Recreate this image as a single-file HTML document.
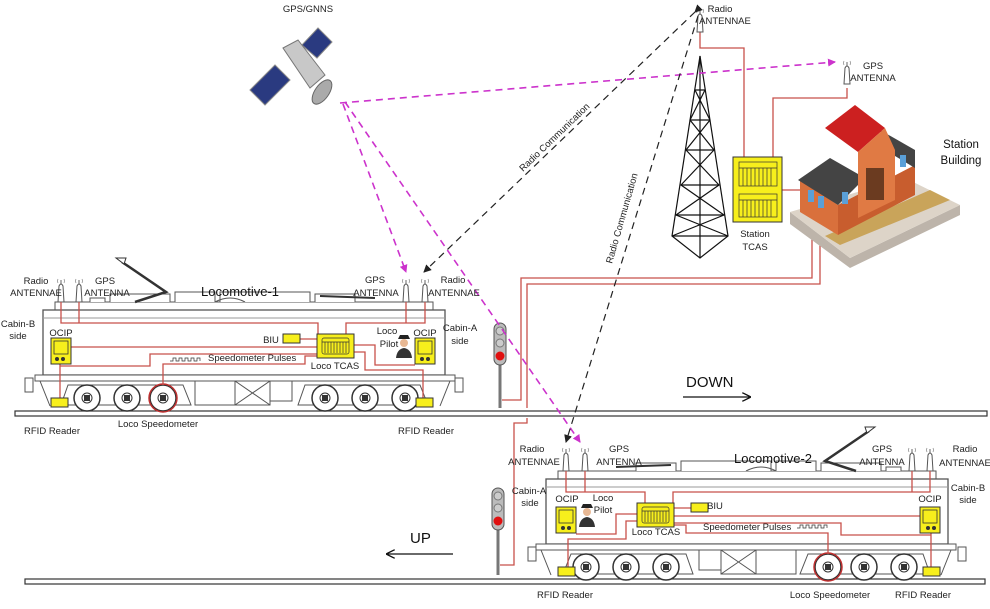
<!DOCTYPE html>
<html><head><meta charset="utf-8"><style>
html,body{margin:0;padding:0;background:#fff;}
svg{display:block;font-family:"Liberation Sans",sans-serif;}
</style></head><body>
<svg width="990" height="609" viewBox="0 0 990 609" xmlns="http://www.w3.org/2000/svg">
<defs>
<marker id="am" markerWidth="8" markerHeight="8" refX="7" refY="4" orient="auto" markerUnits="userSpaceOnUse"><path d="M0,0 L8,4 L0,8 z" fill="#cc33cc"/></marker>
<marker id="ab" markerWidth="8" markerHeight="8" refX="7" refY="4" orient="auto" markerUnits="userSpaceOnUse"><path d="M0,0 L8,4 L0,8 z" fill="#222"/></marker>
<marker id="ak" markerWidth="9" markerHeight="9" refX="8" refY="4.5" orient="auto" markerUnits="userSpaceOnUse"><path d="M0,0 L9,4.5 L0,9" fill="none" stroke="#111" stroke-width="1.3"/></marker>
<g id="ant"><path d="M-3,22 L-2,6 Q0,2 2,6 L3,22 z" fill="#fff" stroke="#555" stroke-width="1"/><line x1="0" y1="0" x2="0" y2="4" stroke="#666"/><path d="M-3,-1 Q-4,1 -3,3 M3,-1 Q4,1 3,3" stroke="#888" fill="none" stroke-width="0.7"/></g>
<g id="wheel"><circle r="13" fill="#fff" stroke="#333" stroke-width="1.5"/><circle r="5" fill="#fff" stroke="#333"/><rect x="-3" y="-3" width="6" height="6" fill="#333"/></g>
<g id="loco">
 <rect x="55" y="302" width="378" height="8" fill="#fff" stroke="#555"/>
 <path d="M110,302 v-8 h60 v8 M175,302 v-10 h40 v10 M220,302 v-10 h90 v10 M315,302 v-8 h40 v8 M90,302 v-4 h15 v4" fill="#fff" stroke="#555"/>
 <path d="M215,302 q15,-8 30,0" fill="none" stroke="#555"/>
 <path d="M320,296 l55,2" stroke="#333" stroke-width="2"/>
 <rect x="43" y="310" width="402" height="65" fill="#fff" stroke="#555" stroke-width="1.3"/>
 <line x1="43" y1="318" x2="445" y2="318" stroke="#999"/>
 <path d="M35,375 h420 v6 h-420 z" fill="#fff" stroke="#555"/>
 <rect x="25" y="378" width="8" height="14" fill="#fff" stroke="#555"/>
 <rect x="455" y="378" width="8" height="14" fill="#fff" stroke="#555"/>
 <path d="M40,381 l10,25 M450,381 l-10,25" stroke="#555"/>
 <path d="M68,385 h115 l8,20 h-130 z" fill="#fff" stroke="#555"/>
 <path d="M305,385 h115 l8,20 h-130 z" fill="#fff" stroke="#555"/>
 <rect x="195" y="381" width="40" height="24" fill="#fff" stroke="#555"/>
 <rect x="235" y="381" width="35" height="24" fill="#fff" stroke="#555"/>
 <path d="M235,381 l35,24 M270,381 l-35,24" stroke="#555"/>
 <rect x="270" y="381" width="22" height="20" fill="#fff" stroke="#555"/>
 <use href="#wheel" x="87" y="398"/><use href="#wheel" x="127" y="398"/><use href="#wheel" x="163" y="398"/>
 <use href="#wheel" x="325" y="398"/><use href="#wheel" x="365" y="398"/><use href="#wheel" x="405" y="398"/>
 <circle cx="163" cy="398" r="14" fill="none" stroke="#c03030" stroke-width="1.5"/>
 <path d="M135,302 L166,292 L122,262" fill="none" stroke="#333" stroke-width="2.5"/>
 <path d="M116,258 l10,0 l-2,6 z" fill="#fff" stroke="#333"/>
 <use href="#ant" x="61" y="280"/><use href="#ant" x="79" y="280"/>
 <use href="#ant" x="406" y="280"/><use href="#ant" x="425" y="280"/>
 <g fill="none" stroke="#c8504a" stroke-width="1.3">
  <path d="M61,302 V323 H318 V336 M79,302 V323"/>
  <path d="M406,302 V323 H346 V336 M425,302 V323 H406"/>
  <path d="M70,347 H318"/>
  <path d="M300,339 H318"/>
  <path d="M60,363 V398 M60,366 H150 V354 H318"/>
  <path d="M163,385 V364 H305 V356 H318"/>
  <path d="M353,345 H375 V365 H415 M353,352 H365 V370 H423 V398"/>
 </g>
 <g fill="#f7ef1c" stroke="#333" stroke-width="1">
  <rect x="51" y="338" width="20" height="26"/>
  <rect x="415" y="338" width="20" height="26"/>
  <rect x="283" y="334" width="17" height="9"/>
  <rect x="317" y="334" width="37" height="24"/>
  <rect x="51" y="398" width="17" height="9"/>
  <rect x="416" y="398" width="17" height="9"/>
 </g>
 <rect x="54" y="341" width="14" height="13" fill="#f7ef1c" stroke="#333" stroke-width="0.8"/>
 <rect x="418" y="341" width="14" height="13" fill="#f7ef1c" stroke="#333" stroke-width="0.8"/>
 <circle cx="57" cy="359" r="2" fill="#333"/><circle cx="63" cy="359" r="2" fill="#333"/>
 <circle cx="422" cy="359" r="2" fill="#333"/><circle cx="428" cy="359" r="2" fill="#333"/>
 <g stroke="#333" stroke-width="0.7" fill="none"><rect x="322" y="338" width="27" height="16" rx="2"/>
  <path d="M325,342 v11 M328,342 v11 M331,342 v11 M334,342 v11 M337,342 v11 M340,342 v11 M343,342 v11 M346,342 v11 M322,342 h27"/></g>
 <circle cx="404" cy="343" r="4" fill="#e8b894"/><path d="M398,339 h12 l-2,-4 h-8 z" fill="#222"/><path d="M396,358 q1,-9 8,-10 q7,1 8,10 z" fill="#333"/>
</g>
</defs>

<rect x="15" y="411" width="972" height="5" fill="#fff" stroke="#333" stroke-width="1.2"/>
<rect x="25" y="579" width="960" height="5" fill="#fff" stroke="#333" stroke-width="1.2"/>

<use href="#loco"/>
<path d="M170,361 h3 v-3 h3 v3 h3 v-3 h3 v3 h3 v-3 h3 v3 h3 v-3 h3 v3 h3 v-3 h3 v3" fill="none" stroke="#333" stroke-width="0.7"/>
<use href="#loco" transform="translate(991,169) scale(-1,1)"/>

<g>
 <line x1="500" y1="362" x2="500" y2="408" stroke="#777" stroke-width="3"/>
 <rect x="494" y="323" width="12" height="42" rx="6" fill="#bbb" stroke="#555"/>
 <circle cx="500" cy="331" r="4" fill="#ccc" stroke="#777"/><circle cx="500" cy="343" r="4" fill="#ccc" stroke="#777"/><circle cx="500" cy="356" r="4.5" fill="#e01010"/>
 <line x1="498" y1="525" x2="498" y2="575" stroke="#777" stroke-width="3"/>
 <rect x="492" y="488" width="12" height="42" rx="6" fill="#bbb" stroke="#555"/>
 <circle cx="498" cy="496" r="4" fill="#ccc" stroke="#777"/><circle cx="498" cy="508" r="4" fill="#ccc" stroke="#777"/><circle cx="498" cy="521" r="4.5" fill="#e01010"/>
</g>
<g fill="none" stroke="#c8504a" stroke-width="1.3">
 <path d="M502,400 H521 V278 H812 V238"/>
 <path d="M527,408 V284 H820 V240"/>
 <path d="M527,418 V423 H514 V565 H500"/>
 <path d="M700,30 V48 H744 V157"/>
 <path d="M847,88 V98 H773 V157"/>
 <path d="M782,190 H800"/>
</g>
<g fill="none" stroke="#111" stroke-width="1.2">
 <path d="M700,56 L672,236 L700,258 L728,236 Z"/>
 <path d="M700,56 L700,258"/>
 <path d="M695,90 L705,90 M690,120 L710,120 M686,150 L714,150 M681,185 L719,185 M676,215 L724,215 M672,236 L728,236"/>
 <path d="M695,90 L710,120 L686,150 L719,185 L676,215 L728,236 M705,90 L690,120 L714,150 L681,185 L724,215 L672,236"/>
</g>
<use href="#ant" x="700" y="10"/>
<use href="#ant" x="847" y="62"/>
<rect x="733" y="157" width="49" height="65" fill="#f7ef1c" stroke="#333"/>
<g stroke="#333" stroke-width="0.7" fill="none"><rect x="739" y="162" width="38" height="24"/><rect x="739" y="194" width="38" height="23"/>
<path d="M739,168 h38 M743,168 v18 M747,168 v18 M751,168 v18 M755,168 v18 M759,168 v18 M763,168 v18 M767,168 v18 M771,168 v18 M739,200 h38 M743,200 v17 M747,200 v17 M751,200 v17 M755,200 v17 M759,200 v17 M763,200 v17 M767,200 v17 M771,200 v17"/></g>
<path d="M790,212 L850,258 L960,205 L960,215 L850,268 L790,224 Z" fill="#bdb4aa"/>
<path d="M790,212 L850,258 L960,205 L905,178 Z" fill="#ddd4c8"/>
<path d="M840,245 L950,200 L930,190 L825,236 Z" fill="#c9a45a"/>
<path d="M800,180 L838,205 L838,235 L800,212 Z" fill="#d9703c"/>
<path d="M838,205 L838,235 L915,195 L915,165 Z" fill="#c85d2e"/>
<path d="M798,180 L830,158 L865,178 L838,205 Z" fill="#444"/>
<path d="M880,130 L915,150 L915,168 L885,150 Z" fill="#444"/>
<path d="M825,128 L855,105 L885,128 L858,152 Z" fill="#cc2020"/>
<path d="M858,152 L885,128 L895,150 L895,200 L858,218 Z" fill="#e07a44"/>
<rect x="866" y="168" width="18" height="32" fill="#6b3b20"/>
<rect x="808" y="190" width="6" height="12" fill="#5aa0d8"/><rect x="818" y="196" width="6" height="12" fill="#5aa0d8"/><rect x="842" y="192" width="6" height="12" fill="#5aa0d8"/><rect x="900" y="155" width="6" height="12" fill="#5aa0d8"/>
<g>
 <path d="M250,90 L265,105 L290,80 L275,65 Z" fill="#2a3a80" stroke="#888"/>
 <path d="M302,45 L317,58 L332,42 L318,28 Z" fill="#2a3a80" stroke="#888"/>
 <path d="M283,48 L298,40 L325,75 L310,88 Z" fill="#c8c8c8" stroke="#777"/>
 <ellipse cx="322" cy="92" rx="7" ry="14" transform="rotate(35 322 92)" fill="#aaa" stroke="#666"/>
</g>
<g fill="none" stroke-width="1.6" stroke-dasharray="7,5">
 <path d="M340,103 L835,62" stroke="#cc33cc" marker-end="url(#am)"/>
 <path d="M343,104 L406,272" stroke="#cc33cc" marker-end="url(#am)"/>
 <path d="M345,102 L580,442" stroke="#cc33cc" marker-end="url(#am)"/>
 <path d="M695,12 L424,272" stroke="#222" stroke-width="1.2" marker-start="url(#ab)" marker-end="url(#ab)"/>
 <path d="M698,16 L566,442" stroke="#222" stroke-width="1.2" marker-end="url(#ab)"/>
</g>
<line x1="683" y1="397" x2="750" y2="397" stroke="#111" stroke-width="1.3" marker-end="url(#ak)"/>
<line x1="453" y1="554" x2="387" y2="554" stroke="#111" stroke-width="1.3" marker-end="url(#ak)"/>

<g font-size="9.5" fill="#222" text-anchor="middle">
 <text x="308" y="12">GPS/GNNS</text>
 <text x="720" y="12">Radio</text><text x="725" y="24">ANTENNAE</text>
 <text x="873" y="69">GPS</text><text x="873" y="81">ANTENNA</text>
 <text x="755" y="237">Station</text><text x="755" y="250">TCAS</text>
 <text x="36" y="284">Radio</text><text x="36" y="296">ANTENNAE</text>
 <text x="105" y="284">GPS</text><text x="107" y="296">ANTENNA</text>
 <text x="375" y="283">GPS</text><text x="376" y="296">ANTENNA</text>
 <text x="453" y="283">Radio</text><text x="454" y="296">ANTENNAE</text>
 <text x="18" y="327">Cabin-B</text><text x="18" y="339">side</text>
 <text x="61" y="336">OCIP</text><text x="425" y="336">OCIP</text>
 <text x="460" y="331">Cabin-A</text><text x="460" y="344">side</text>
 <text x="387" y="334">Loco</text><text x="389" y="347">Pilot</text>
 <text x="271" y="343">BIU</text>
 <text x="335" y="369">Loco TCAS</text>
 <text x="52" y="434">RFID Reader</text>
 <text x="158" y="427">Loco Speedometer</text>
 <text x="426" y="434">RFID Reader</text>
 <text x="532" y="452">Radio</text><text x="534" y="465">ANTENNAE</text>
 <text x="619" y="452">GPS</text><text x="619" y="465">ANTENNA</text>
 <text x="882" y="452">GPS</text><text x="882" y="465">ANTENNA</text>
 <text x="965" y="452">Radio</text><text x="965" y="466">ANTENNAE</text>
 <text x="529" y="494">Cabin-A</text><text x="530" y="506">side</text>
 <text x="567" y="502">OCIP</text><text x="930" y="502">OCIP</text>
 <text x="603" y="501">Loco</text><text x="603" y="513">Pilot</text>
 <text x="968" y="491">Cabin-B</text><text x="968" y="503">side</text>
 <text x="715" y="509">BIU</text>
 <text x="656" y="535">Loco TCAS</text>
 <text x="565" y="598">RFID Reader</text>
 <text x="830" y="598">Loco Speedometer</text>
 <text x="923" y="598">RFID Reader</text>
</g>
<text x="208" y="361" font-size="9.5" fill="#222">Speedometer Pulses</text>
<text x="703" y="530" font-size="9.5" fill="#222">Speedometer Pulses</text>
<path d="M797,528 h3 v-3 h3 v3 h3 v-3 h3 v3 h3 v-3 h3 v3 h3 v-3 h3 v3 h3 v-3 h3 v3" fill="none" stroke="#333" stroke-width="0.7"/>
<text x="201" y="296" font-size="13" fill="#111">Locomotive-1</text>
<text x="734" y="463" font-size="13" fill="#111">Locomotive-2</text>
<text x="961" y="148" font-size="11.5" fill="#111" text-anchor="middle">Station</text>
<text x="961" y="164" font-size="11.5" fill="#111" text-anchor="middle">Building</text>
<text x="686" y="387" font-size="15" fill="#111">DOWN</text>
<text x="410" y="543" font-size="15" fill="#111">UP</text>
<text x="0" y="0" font-size="9.5" fill="#222" transform="translate(523,172) rotate(-44)">Radio Communication</text>
<text x="0" y="0" font-size="9.5" fill="#222" transform="translate(612,264) rotate(-74)">Radio Communication</text>
</svg>
</body></html>
